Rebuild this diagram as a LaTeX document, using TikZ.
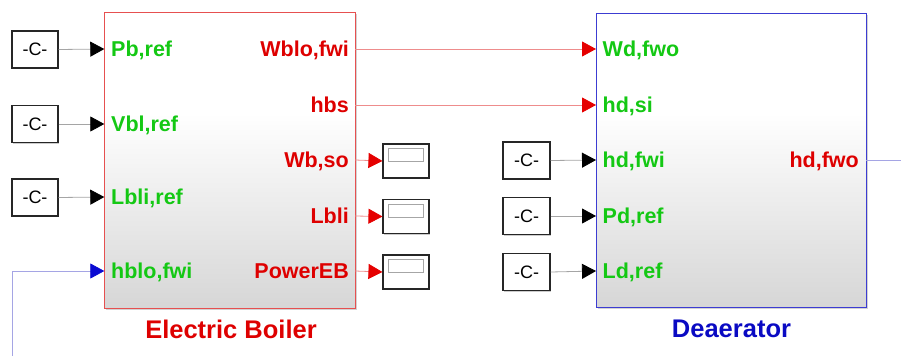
\documentclass[tikz,border=0pt]{standalone}
\usepackage{fontspec}
\setmainfont{Liberation Sans}
\usetikzlibrary{arrows.meta,shadows}
\definecolor{txtred}{RGB}{222,0,0}
\definecolor{txtgreen}{RGB}{20,200,20}
\definecolor{txtblue}{RGB}{10,10,195}
\definecolor{ebborder}{RGB}{230,80,80}
\definecolor{daborder}{RGB}{60,60,210}
\definecolor{wirered}{RGB}{238,140,140}
\definecolor{wiregray}{RGB}{165,165,165}
\definecolor{wireblue}{RGB}{165,165,228}
\definecolor{tipblue}{RGB}{10,10,210}
% path spans 25bp (bottom) to 75bp (top)
\pgfdeclareverticalshading{blockfade}{100bp}{color(0bp)=(black!16); color(25bp)=(black!16); color(58bp)=(white); color(100bp)=(white)}
\newcommand{\portfont}{\bfseries\fontsize{21.5}{24}\selectfont}
\newcommand{\titlefont}{\bfseries\fontsize{25.5}{28}\selectfont}
\newcommand{\constfont}{\fontsize{18}{20}\selectfont}
\begin{document}
\begin{tikzpicture}[x=1pt,y=-1pt,
  subsystem/.style={minimum width=251pt,minimum height=296pt,shading=blockfade,line width=0.9pt,
    drop shadow={shadow xshift=1.5pt,shadow yshift=-1.5pt,opacity=0.35,fill=gray}},
  constblock/.style={draw=black!85,fill=white,line width=1.1pt,minimum width=46pt,minimum height=37pt,
    inner sep=0pt,font=\constfont,
    drop shadow={shadow xshift=1.2pt,shadow yshift=-1.2pt,opacity=0.4,fill=gray}},
  dispblock/.style={draw=black!85,fill=white,line width=1.1pt,minimum width=46pt,minimum height=34pt,inner sep=0pt,
    drop shadow={shadow xshift=1.2pt,shadow yshift=-1.2pt,opacity=0.4,fill=gray}},
  dispwindow/.style={draw=black!35,line width=0.8pt,minimum width=35pt,minimum height=13pt,inner sep=0pt},
  inport/.style={anchor=base west,inner sep=0pt,font=\portfont,text=txtgreen},
  outport/.style={anchor=base east,inner sep=0pt,font=\portfont,text=txtred},
  graywire/.style={draw=wiregray,line width=0.8pt,arrows={-{Triangle[length=14pt,width=15pt,color=black]}}},
  redwire/.style={draw=wirered,line width=0.8pt,arrows={-{Triangle[length=14pt,width=15pt,color=red!90!black]}}},
  bluewire/.style={draw=wireblue,line width=0.8pt},
]
\useasboundingbox (0,0) rectangle (901,356);

% Electric boiler subsystem
\node[subsystem,draw=ebborder] (eb) at (229.7,160.2) {};
\node[font=\titlefont,text=txtred] (ebtitle) at (231,329) {Electric Boiler};

% Deaerator subsystem
\node[subsystem,draw=daborder,minimum width=270pt,minimum height=294pt] (da) at (731,160.2) {};
\node[font=\titlefont,text=txtblue] (datitle) at (731.5,329) {Deaerator};

% Port positions on the block edges
\foreach \y [count=\i] in {49,124,197,271} {\coordinate (ebin\i) at (104.3,\y);}
\foreach \y [count=\i] in {49,105,160,216,271} {\coordinate (ebout\i) at (355.2,\y);}
\foreach \y [count=\i] in {49,105,160,216,271} {\coordinate (dain\i) at (596,\y);}
\coordinate (daout1) at (865.8,160);

% Boiler port labels
\node[inport] (pbref) at (111,56.7) {Pb,ref};
\node[inport] (vblref) at (111,131.7) {Vbl,ref};
\node[inport] (lbliref) at (111,204.7) {Lbli,ref};
\node[inport] (hblofwi) at (111,278.7) {hblo,fwi};
\node[outport] (wblofwi) at (349,56.7) {Wblo,fwi};
\node[outport] (hbs) at (349,112.7) {hbs};
\node[outport] (wbso) at (349,167.7) {Wb,so};
\node[outport] (lbli) at (349,223.7) {Lbli};
\node[outport] (powereb) at (349,278.7) {PowerEB};

% Deaerator port labels
\node[inport] (wdfwo) at (602.5,56.7) {Wd,fwo};
\node[inport] (hdsi) at (602.5,112.7) {hd,si};
\node[inport] (hdfwi) at (602.5,167.7) {hd,fwi};
\node[inport] (pdref) at (602.5,223.7) {Pd,ref};
\node[inport] (ldref) at (602.5,278.7) {Ld,ref};
\node[outport] (hdfwo) at (859,167.7) {hd,fwo};

% Constant sources
\node[constblock] (k1) at (35,49.5) {-C-};
\node[constblock] (k2) at (35,124) {-C-};
\node[constblock] (k3) at (35,197.5) {-C-};
\node[constblock,minimum width=47pt] (k4) at (526.5,160.5) {-C-};
\node[constblock,minimum width=47pt] (k5) at (526.5,216) {-C-};
\node[constblock,minimum width=47pt] (k6) at (526.5,272) {-C-};

% Display sinks
\foreach \y [count=\i] in {161,216.5,272} {
  \node[dispblock] (disp\i) at (406,\y) {};
  \node[dispwindow] (win\i) at ([yshift=5.8pt]disp\i.center) {};
}

% Signal lines
\draw[graywire] (k1.east) -- (ebin1);
\draw[graywire] (k2.east) -- (ebin2);
\draw[graywire] (k3.east) -- (ebin3);
\draw[graywire] (k4.east) -- (dain3);
\draw[graywire] (k5.east) -- (dain4);
\draw[graywire] (k6.east) -- (dain5);

\draw[redwire] (ebout1) -- (dain1);
\draw[redwire] (ebout2) -- (dain2);
\draw[redwire] (ebout3) -- (disp1.west);
\draw[redwire] (ebout4) -- (disp2.west);
\draw[redwire] (ebout5) -- (disp3.west);

% Feedback of the deaerator outlet enthalpy
\coordinate (fbout) at (901,160);
\coordinate (fbin) at (12,356);
\draw[bluewire] (daout1) -- (fbout);
\draw[bluewire,arrows={-{Triangle[length=14pt,width=15pt,color=tipblue]}}] (fbin) |- (ebin4);
\end{tikzpicture}
\end{document}
